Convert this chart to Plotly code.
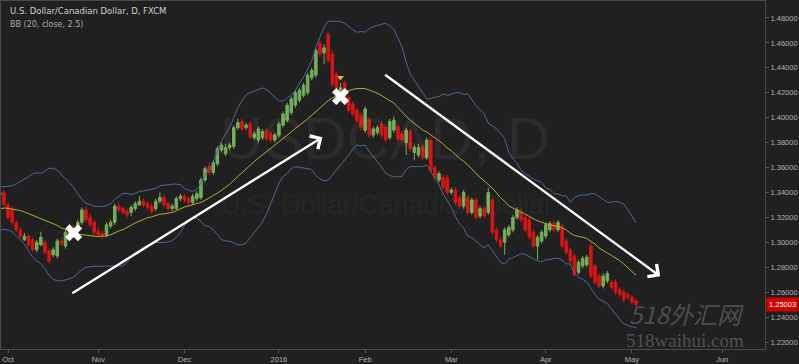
import pandas as pd
import plotly.graph_objects as go

# ---- data: daily OHLC, USD/CAD (FXCM) ----
# (open, high, low, close)
sep_ohlc = [
    (1.3290, 1.3320, 1.3225, 1.3260), (1.3260, 1.3285, 1.3170, 1.3200), (1.3200, 1.3265, 1.3180, 1.3230),
    (1.3230, 1.3290, 1.3205, 1.3260), (1.3260, 1.3275, 1.3230, 1.3250), (1.3250, 1.3270, 1.3160, 1.3180),
    (1.3180, 1.3290, 1.3165, 1.3270), (1.3270, 1.3300, 1.3220, 1.3240), (1.3240, 1.3265, 1.3215, 1.3245),
    (1.3245, 1.3270, 1.3210, 1.3235), (1.3235, 1.3310, 1.3220, 1.3280), (1.3280, 1.3295, 1.3160, 1.3170),
    (1.3170, 1.3200, 1.3120, 1.3150), (1.3150, 1.3260, 1.3140, 1.3240), (1.3240, 1.3300, 1.3230, 1.3280),
    (1.3280, 1.3410, 1.3270, 1.3390), (1.3390, 1.3420, 1.3320, 1.3340), (1.3340, 1.3370, 1.3300, 1.3330),
    (1.3330, 1.3360, 1.3290, 1.3330), (1.3330, 1.3400, 1.3320, 1.3380), (1.3380, 1.3450, 1.3370, 1.3400),
    (1.3400, 1.3420, 1.3300, 1.3300),
]
oct_ohlc = [
    (1.3300, 1.3320, 1.3180, 1.3200), (1.3260, 1.3290, 1.3140, 1.3160), (1.3160, 1.3180, 1.3080, 1.3100),
    (1.3100, 1.3120, 1.3030, 1.3050), (1.3020, 1.3075, 1.3010, 1.3050), (1.3050, 1.3070, 1.2965, 1.2980),
    (1.3020, 1.3040, 1.2925, 1.2940), (1.2940, 1.3020, 1.2920, 1.3000), (1.2980, 1.3085, 1.2970, 1.3040),
    (1.3000, 1.3020, 1.2900, 1.2920), (1.2930, 1.2950, 1.2830, 1.2850), (1.2900, 1.2960, 1.2880, 1.2940),
    (1.2890, 1.3030, 1.2870, 1.3010), (1.3010, 1.3040, 1.2970, 1.2990), (1.2970, 1.3100, 1.2950, 1.3080),
    (1.3060, 1.3150, 1.3040, 1.3120), (1.3110, 1.3140, 1.3070, 1.3090), (1.3100, 1.3180, 1.3080, 1.3160),
    (1.3160, 1.3280, 1.3140, 1.3260), (1.3260, 1.3290, 1.3160, 1.3180), (1.3200, 1.3230, 1.3120, 1.3140),
    (1.3160, 1.3180, 1.3060, 1.3080),
]
nov_ohlc = [
    (1.3090, 1.3120, 1.3040, 1.3060), (1.3070, 1.3100, 1.3030, 1.3050), (1.3060, 1.3160, 1.3040, 1.3140),
    (1.3130, 1.3180, 1.3110, 1.3160), (1.3160, 1.3310, 1.3140, 1.3290), (1.3290, 1.3320, 1.3240, 1.3260),
    (1.3270, 1.3290, 1.3220, 1.3240), (1.3250, 1.3270, 1.3200, 1.3220), (1.3240, 1.3300, 1.3210, 1.3280),
    (1.3270, 1.3330, 1.3250, 1.3310), (1.3300, 1.3370, 1.3290, 1.3330), (1.3330, 1.3350, 1.3280, 1.3300),
    (1.3310, 1.3330, 1.3260, 1.3280), (1.3290, 1.3310, 1.3230, 1.3250), (1.3270, 1.3350, 1.3250, 1.3330),
    (1.3330, 1.3400, 1.3310, 1.3360), (1.3360, 1.3380, 1.3280, 1.3300), (1.3310, 1.3330, 1.3250, 1.3270),
    (1.3270, 1.3310, 1.3250, 1.3290), (1.3270, 1.3370, 1.3260, 1.3350), (1.3350, 1.3390, 1.3330, 1.3370),
]
dec_ohlc = [
    (1.3370, 1.3390, 1.3320, 1.3340), (1.3350, 1.3370, 1.3300, 1.3320), (1.3320, 1.3390, 1.3300, 1.3370),
    (1.3350, 1.3410, 1.3330, 1.3390), (1.3360, 1.3520, 1.3340, 1.3500), (1.3500, 1.3610, 1.3480, 1.3590),
    (1.3610, 1.3640, 1.3540, 1.3560), (1.3560, 1.3660, 1.3540, 1.3640), (1.3630, 1.3770, 1.3610, 1.3750),
    (1.3740, 1.3800, 1.3720, 1.3780), (1.3710, 1.3790, 1.3690, 1.3760), (1.3760, 1.3800, 1.3740, 1.3780),
    (1.3770, 1.3940, 1.3750, 1.3920), (1.3920, 1.3990, 1.3900, 1.3960), (1.3970, 1.3990, 1.3890, 1.3910),
    (1.3920, 1.3960, 1.3900, 1.3940), (1.3950, 1.3970, 1.3830, 1.3850), (1.3840, 1.3890, 1.3820, 1.3870),
    (1.3820, 1.3930, 1.3800, 1.3910), (1.3840, 1.3910, 1.3820, 1.3890), (1.3900, 1.3920, 1.3810, 1.3830),
    (1.3870, 1.3890, 1.3800, 1.3820), (1.3820, 1.3880, 1.3800, 1.3860),
]
jan_ohlc = [
    (1.3860, 1.3970, 1.3840, 1.3950), (1.3940, 1.4050, 1.3920, 1.4030), (1.3980, 1.4120, 1.3960, 1.4100),
    (1.4040, 1.4170, 1.4020, 1.4150), (1.4100, 1.4220, 1.4080, 1.4200), (1.4140, 1.4240, 1.4120, 1.4220),
    (1.4180, 1.4280, 1.4160, 1.4260), (1.4200, 1.4360, 1.4180, 1.4340), (1.4320, 1.4400, 1.4300, 1.4380),
    (1.4340, 1.4560, 1.4320, 1.4540), (1.4600, 1.4620, 1.4490, 1.4510), (1.4520, 1.4590, 1.4430, 1.4560),
    (1.4670, 1.4690, 1.4440, 1.4460), (1.4510, 1.4540, 1.4250, 1.4270), (1.4350, 1.4370, 1.4220, 1.4240),
    (1.4200, 1.4280, 1.4180, 1.4240), (1.4280, 1.4300, 1.4120, 1.4140), (1.4160, 1.4180, 1.4040, 1.4060),
    (1.4110, 1.4130, 1.4010, 1.4030), (1.4060, 1.4080, 1.3960, 1.3980), (1.4020, 1.4040, 1.3900, 1.3920),
]
feb_ohlc = [
    (1.3900, 1.4090, 1.3880, 1.4070), (1.3980, 1.4000, 1.3840, 1.3860), (1.3860, 1.3930, 1.3840, 1.3910),
    (1.3880, 1.3940, 1.3860, 1.3920), (1.3950, 1.3970, 1.3840, 1.3860), (1.3920, 1.3940, 1.3800, 1.3820),
    (1.3840, 1.3990, 1.3820, 1.3970), (1.3900, 1.4010, 1.3880, 1.3980), (1.3930, 1.3950, 1.3810, 1.3830),
    (1.3870, 1.3890, 1.3800, 1.3820), (1.3800, 1.3920, 1.3700, 1.3900), (1.3890, 1.3910, 1.3730, 1.3750),
    (1.3720, 1.3780, 1.3660, 1.3760), (1.3700, 1.3790, 1.3680, 1.3760), (1.3770, 1.3790, 1.3660, 1.3680),
    (1.3680, 1.3840, 1.3660, 1.3820), (1.3820, 1.3840, 1.3560, 1.3580), (1.3600, 1.3620, 1.3500, 1.3520),
    (1.3500, 1.3570, 1.3480, 1.3550), (1.3520, 1.3540, 1.3420, 1.3440), (1.3520, 1.3540, 1.3380, 1.3400),
]
mar_ohlc = [
    (1.3400, 1.3440, 1.3380, 1.3420), (1.3420, 1.3440, 1.3300, 1.3320), (1.3360, 1.3380, 1.3270, 1.3290),
    (1.3290, 1.3420, 1.3270, 1.3400), (1.3360, 1.3380, 1.3220, 1.3240), (1.3240, 1.3360, 1.3220, 1.3340),
    (1.3340, 1.3360, 1.3180, 1.3200), (1.3210, 1.3290, 1.3190, 1.3270), (1.3270, 1.3290, 1.3190, 1.3210),
    (1.3240, 1.3440, 1.3220, 1.3400), (1.3340, 1.3360, 1.3060, 1.3080), (1.3100, 1.3120, 1.3000, 1.3020),
    (1.3020, 1.3040, 1.2950, 1.2970), (1.3000, 1.3120, 1.2900, 1.3100), (1.3060, 1.3140, 1.3040, 1.3120),
    (1.3100, 1.3220, 1.3080, 1.3200), (1.3200, 1.3280, 1.3180, 1.3260), (1.3240, 1.3270, 1.3160, 1.3180),
    (1.3200, 1.3220, 1.3080, 1.3100), (1.3180, 1.3200, 1.3020, 1.3040), (1.3080, 1.3100, 1.2950, 1.2970),
    (1.2970, 1.3060, 1.2860, 1.3040), (1.3010, 1.3100, 1.2990, 1.3080),
]
apr_ohlc = [
    (1.3050, 1.3160, 1.3030, 1.3140), (1.3100, 1.3170, 1.3080, 1.3150), (1.3150, 1.3180, 1.3080, 1.3100),
    (1.3100, 1.3180, 1.3080, 1.3160), (1.3130, 1.3150, 1.2950, 1.2970), (1.3010, 1.3030, 1.2900, 1.2920),
    (1.2940, 1.2960, 1.2830, 1.2850), (1.2890, 1.2910, 1.2720, 1.2740), (1.2760, 1.2860, 1.2740, 1.2840),
    (1.2810, 1.2890, 1.2790, 1.2870), (1.2820, 1.2900, 1.2800, 1.2880), (1.2970, 1.3000, 1.2710, 1.2730),
    (1.2810, 1.2830, 1.2660, 1.2680), (1.2730, 1.2750, 1.2630, 1.2650), (1.2650, 1.2750, 1.2630, 1.2730),
    (1.2690, 1.2770, 1.2670, 1.2750), (1.2680, 1.2700, 1.2620, 1.2640), (1.2680, 1.2700, 1.2580, 1.2600),
    (1.2620, 1.2640, 1.2560, 1.2580), (1.2600, 1.2620, 1.2520, 1.2540), (1.2580, 1.2600, 1.2540, 1.2560),
]
may_ohlc = [
    (1.2560, 1.2580, 1.2500, 1.2520), (1.2530, 1.2550, 1.2480, 1.25003),
]

month_ticks = ["2015-10-01", "2015-11-02", "2015-12-01", "2016-01-01", "2016-02-01",
               "2016-03-01", "2016-04-01", "2016-05-02", "2016-06-01"]
month_labels = ["Oct", "Nov", "Dec", "2016", "Feb", "Mar", "Apr", "May", "Jun"]
price_ticks = [1.22, 1.24, 1.26, 1.28, 1.30, 1.32, 1.34, 1.36, 1.38, 1.40, 1.42, 1.44, 1.46, 1.48]

# crossing points marked on the chart
signal_dates = ["2015-10-23", "2016-01-22"]
signal_prices = [1.3077, 1.4170]
flag_dates = ["2016-01-22"]
flag_prices = [1.4322]

# trend arrows (tail date, tail price, head date, head price)
arrows = [
    ("2015-10-22 07:00", 1.2583, "2016-01-15 14:00", 1.3843),
    ("2016-02-05 12:00", 1.4353, "2016-05-10 21:00", 1.2727),
]

bb_length = 20
bb_mult = 2.5

# ---- build ----
rows = sep_ohlc + oct_ohlc + nov_ohlc + dec_ohlc + jan_ohlc + feb_ohlc + mar_ohlc + apr_ohlc + may_ohlc
dates = pd.bdate_range("2015-09-01", "2016-05-03")
assert len(dates) == len(rows), (len(dates), len(rows))
opens = [r[0] for r in rows]
highs = [r[1] for r in rows]
lows = [r[2] for r in rows]
closes = [r[3] for r in rows]

cs = pd.Series(closes)
mid = cs.rolling(bb_length).mean()
sd = cs.rolling(bb_length).std(ddof=0)
upper = mid + bb_mult * sd
lower = mid - bb_mult * sd

BG = "#202020"
GREEN = "#74ae5a"
RED = "#d81414"
BAND = "#4a6896"
MID = "#b2ae3a"

fig = go.Figure()
fig.add_trace(go.Scatter(x=dates, y=upper, mode="lines", line=dict(color=BAND, width=1), hoverinfo="skip"))
fig.add_trace(go.Scatter(x=dates, y=lower, mode="lines", line=dict(color=BAND, width=1), hoverinfo="skip"))
fig.add_trace(go.Scatter(x=dates, y=mid, mode="lines", line=dict(color=MID, width=1), hoverinfo="skip"))
fig.add_trace(go.Candlestick(
    x=dates, open=opens, high=highs, low=lows, close=closes,
    increasing=dict(line=dict(color=GREEN, width=1), fillcolor=GREEN),
    decreasing=dict(line=dict(color=RED, width=1), fillcolor=RED),
    whiskerwidth=0,
))
fig.add_trace(go.Scatter(x=pd.to_datetime(signal_dates), y=signal_prices, mode="markers",
                         marker=dict(symbol="x", size=15, color="white", line=dict(width=0)),
                         hoverinfo="skip"))
fig.add_trace(go.Scatter(x=pd.to_datetime(flag_dates), y=flag_prices, mode="markers",
                         marker=dict(symbol="triangle-down", size=6, color="#d8c030"),
                         hoverinfo="skip"))

annotations = []
for (tx, ty, hx, hy) in arrows:
    annotations.append(dict(
        x=hx, y=hy, ax=tx, ay=ty, xref="x", yref="y", axref="x", ayref="y",
        text="", showarrow=True, arrowhead=4, arrowsize=1.3, arrowwidth=2.3,
        arrowcolor="white", standoff=0, startstandoff=0,
    ))

# watermark
annotations.append(dict(x=0.503, y=0.606, xref="paper", yref="paper", text="USDCAD, D",
                        showarrow=False, font=dict(family="Liberation Sans", size=60,
                                                    color="rgba(255,255,255,0.05)")))
annotations.append(dict(x=0.505, y=0.414, xref="paper", yref="paper", text="U.S. Dollar/Canadian Dollar",
                        showarrow=False, font=dict(family="Liberation Sans", size=27,
                                                    color="rgba(255,255,255,0.05)")))
# header
annotations.append(dict(x=0.009, y=1, xref="paper", yref="paper", text="U.S. Dollar/Canadian Dollar, D, FXCM",
                        showarrow=False, xanchor="left", yanchor="top", yshift=-3,
                        font=dict(family="DejaVu Sans", size=8.5, color="#cfcfcf")))
annotations.append(dict(x=0.009, y=1, xref="paper", yref="paper", text="BB (20, close, 2.5)",
                        showarrow=False, xanchor="left", yanchor="top", yshift=-17,
                        font=dict(family="DejaVu Sans", size=8, color="#a8a8a8")))
# last price tag
annotations.append(dict(x=1, y=closes[-1], xref="paper", yref="y", text=f"{closes[-1]:.5f}",
                        showarrow=False, xanchor="left", yanchor="middle", xshift=1,
                        bgcolor="#d40000", borderpad=2,
                        font=dict(family="Liberation Sans", size=7.5, color="white")))
# site watermark
annotations.append(dict(x=0.975, y=0.045, xref="paper", yref="paper", text="<i>518外汇网</i>",
                        showarrow=False, font=dict(family="Noto Sans CJK SC", size=24,
                                                    color="rgba(190,190,190,0.30)")))
annotations.append(dict(x=0.975, y=-0.012, xref="paper", yref="paper", text="518waihui.com",
                        showarrow=False, font=dict(family="Liberation Serif", size=19,
                                                    color="rgba(190,190,190,0.32)")))

fig.update_layout(
    width=799, height=364,
    margin=dict(l=0, r=34, t=0, b=14),
    paper_bgcolor=BG, plot_bgcolor=BG,
    showlegend=False,
    boxgap=0.12,
    annotations=annotations,
    xaxis=dict(
        type="date",
        range=["2015-09-29 07:00", "2016-06-15 10:00"],
        rangebreaks=[dict(bounds=["sat", "mon"])],
        rangeslider=dict(visible=False),
        tickvals=month_ticks, ticktext=month_labels,
        showgrid=False, zeroline=False,
        showline=True, linecolor="#4a4a4a", linewidth=1, mirror=True,
        ticks="outside", ticklen=3, tickcolor="#555",
        tickfont=dict(family="Liberation Sans", size=7.5, color="#b0b0b0"),
    ),
    yaxis=dict(
        side="right",
        range=[1.2144, 1.4936],
        tickvals=price_ticks, tickformat=".5f",
        showgrid=False, zeroline=False,
        showline=True, linecolor="#4a4a4a", linewidth=1, mirror=True,
        ticks="outside", ticklen=3, tickcolor="#555",
        tickfont=dict(family="Liberation Sans", size=7.5, color="#b0b0b0"),
    ),
)

fig.write_html("out.html")
